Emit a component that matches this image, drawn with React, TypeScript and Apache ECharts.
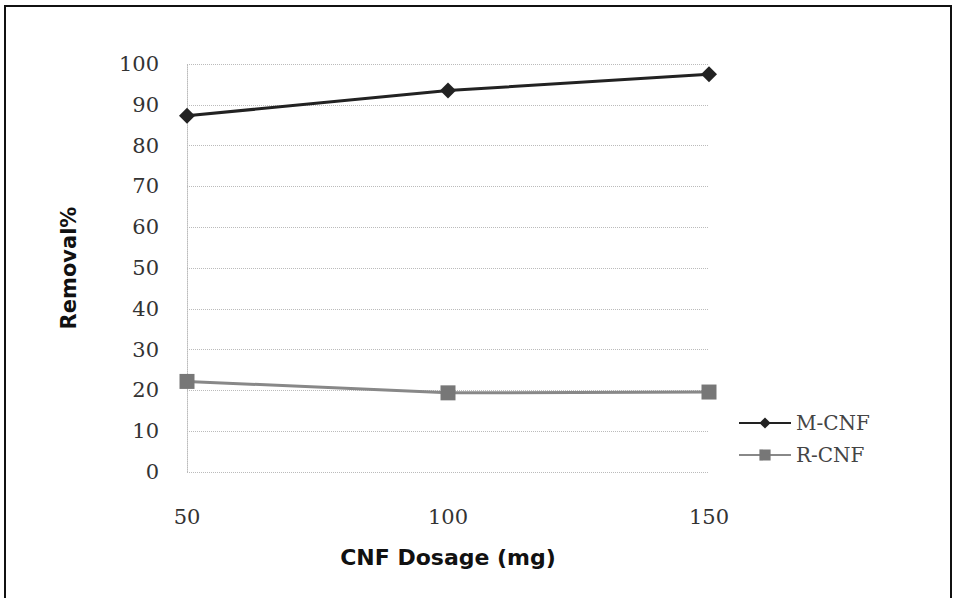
import React, { useEffect, useRef } from "react";
import * as echarts from "echarts";

const categories = ["50", "100", "150"];
const mcnf = [87.3, 93.5, 97.5];
const rcnf = [22.2, 19.4, 19.6];
const yTicks = { min: 0, max: 100, interval: 10 };

export default function App() {
  const ref = useRef<HTMLDivElement>(null);
  useEffect(() => {
    const chart = echarts.init(ref.current!, undefined, { renderer: "svg" });
    const tickFont = { fontFamily: "DejaVu Serif", fontSize: 21, color: "#333" };
    chart.setOption({
      animation: false,
      backgroundColor: "#fff",
      graphic: [
        {
          type: "rect",
          shape: { x: 5, y: 6, width: 946, height: 600 },
          style: { fill: "none", stroke: "#111", lineWidth: 2 },
        },
      ],
      grid: { left: 187, right: 248, top: 64, bottom: 126 },
      legend: {
        orient: "vertical",
        left: 733,
        top: 408,
        itemWidth: 52,
        itemHeight: 14,
        itemGap: 12,
        textStyle: { fontFamily: "DejaVu Serif", fontSize: 20, color: "#444" },
        data: ["M-CNF", "R-CNF"],
      },
      xAxis: {
        type: "category",
        data: categories,
        boundaryGap: false,
        name: "CNF Dosage (mg)",
        nameLocation: "middle",
        nameGap: 74,
        nameTextStyle: { fontFamily: "DejaVu Sans", fontWeight: "bold", fontSize: 22, color: "#111" },
        axisLine: { show: false },
        axisTick: { show: false },
        axisLabel: { ...tickFont, margin: 34 },
        splitLine: { show: false },
      },
      yAxis: {
        type: "value",
        ...yTicks,
        name: "Removal%",
        nameLocation: "middle",
        nameGap: 108,
        nameTextStyle: { fontFamily: "DejaVu Sans", fontWeight: "bold", fontSize: 21, color: "#111" },
        axisLine: { show: true, lineStyle: { color: "#bbb", type: "dotted", width: 1 } },
        axisTick: { show: false },
        axisLabel: { ...tickFont, margin: 28 },
        splitLine: { show: true, lineStyle: { color: "#bbb", type: "dotted", width: 1 } },
      },
      series: [
        {
          name: "M-CNF",
          type: "line",
          data: mcnf,
          symbol: "diamond",
          symbolSize: 16,
          lineStyle: { color: "#222", width: 3 },
          itemStyle: { color: "#222" },
        },
        {
          name: "R-CNF",
          type: "line",
          data: rcnf,
          symbol: "rect",
          symbolSize: 15,
          lineStyle: { color: "#888", width: 3 },
          itemStyle: { color: "#777" },
        },
      ],
    });
    return () => chart.dispose();
  }, []);
  return (
    <div
      ref={ref}
      style={{ position: "fixed", left: 0, top: 0, width: 957, height: 598 }}
    />
  );
}
